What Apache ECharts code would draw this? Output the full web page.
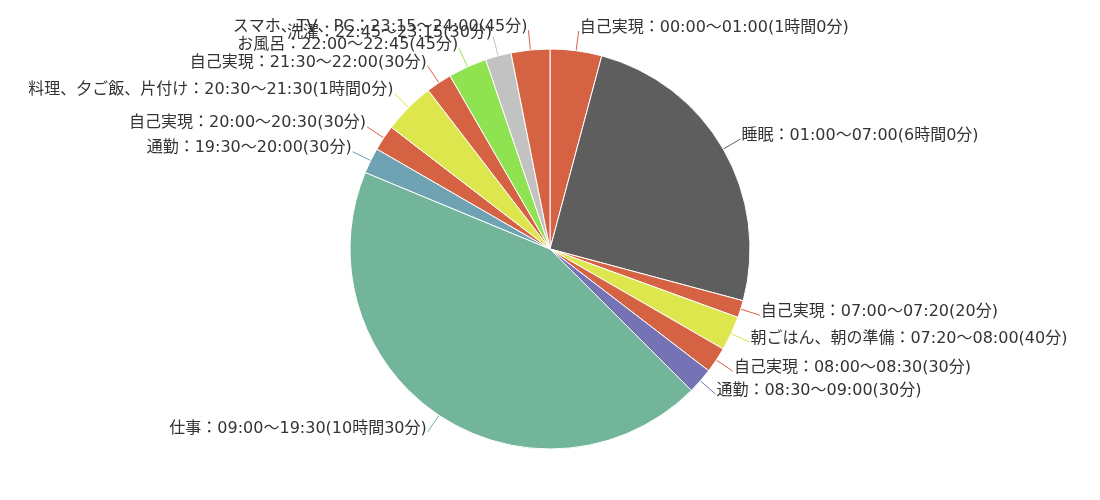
<!DOCTYPE html>
<html>
<head>
<meta charset="utf-8">
<script src="https://cdn.jsdelivr.net/npm/echarts@6/dist/echarts.min.js"></script>
<style>
  html, body { margin: 0; padding: 0; background: #fff; }
  #chart { width: 1100px; height: 500px; }
</style>
</head>
<body>
<div id="chart"></div>
<script>
// 1日のスケジュール（分単位）
const names = ['自己実現', '睡眠', '自己実現', '朝ごはん、朝の準備', '自己実現', '通勤', '仕事', '通勤',
  '自己実現', '料理、夕ご飯、片付け', '自己実現', 'お風呂', '洗濯', 'スマホ、TV、PC']
const starts = ['00:00', '01:00', '07:00', '07:20', '08:00', '08:30', '09:00', '19:30',
  '20:00', '20:30', '21:30', '22:00', '22:45', '23:15']
const ends = ['01:00', '07:00', '07:20', '08:00', '08:30', '09:00', '19:30', '20:00',
  '20:30', '21:30', '22:00', '22:45', '23:15', '24:00']
const minutes = [60, 360, 20, 40, 30, 30, 630, 30, 30, 60, 30, 45, 30, 45]

// 色（項目ごと）
const colors = ['#d66244', '#5e5e5e', '#d66244', '#dde64d', '#d66244', '#7573b6', '#73b59a', '#6fa3b3',
  '#d66244', '#dde64d', '#d66244', '#90e350', '#c2c2c2', '#d66244']

function durationText(m) {
  if (m >= 60) return Math.floor(m / 60) + '時間' + (m % 60) + '分'
  return m + '分'
}

const chart = echarts.init(document.getElementById('chart'))
chart.setOption({
  animation: false,
  color: colors,
  series: [{
    type: 'pie',
    center: ['50%', 249],
    radius: 200,
    startAngle: 90,
    clockwise: true,
    avoidLabelOverlap: false,
    labelLayout: { hideOverlap: false },
    itemStyle: { borderColor: '#fff', borderWidth: 1 },
    label: {
      distanceToLabelLine: 1,
      formatter: p => '{t|' + names[p.dataIndex] + '：' + starts[p.dataIndex] + '～' + ends[p.dataIndex] +
        '(' + durationText(minutes[p.dataIndex]) + ')}',
      rich: {
        t: {
          color: '#333',
          fontSize: 16,
          fontFamily: '"DejaVu Sans", "Noto Sans CJK JP", sans-serif',
          padding: [0, 0, 7, 0]
        }
      }
    },
    labelLine: { length: 20, length2: 0, lineStyle: { width: 1 } },
    data: minutes.map((v, i) => ({ name: names[i] + i, value: v }))
  }]
})
</script>
</body>
</html>
